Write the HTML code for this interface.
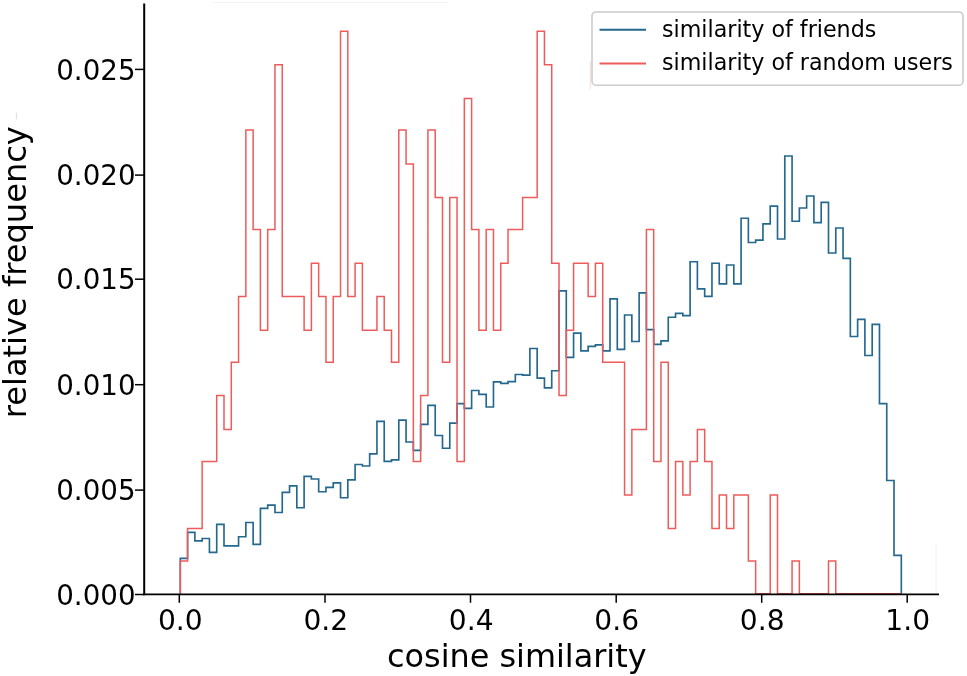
<!DOCTYPE html>
<html><head><meta charset="utf-8"><title>cosine similarity histogram</title>
<style>
html,body{margin:0;padding:0;background:#fff;}
svg{display:block;font-family:"DejaVu Sans","Liberation Sans",sans-serif;}
</style></head><body>
<svg width="967" height="676" viewBox="0 0 967 676">
<rect width="967" height="676" fill="#fff"/>
<line x1="212" y1="2.5" x2="448" y2="2.5" stroke="#f4f4f4" stroke-width="1.2"/>
<line x1="936.1" y1="544" x2="936.1" y2="594" stroke="#f4f4f4" stroke-width="1.2"/>
<line x1="16.4" y1="112.5" x2="16.4" y2="119.5" stroke="#dedede" stroke-width="1"/>
<g fill="none" stroke-linejoin="miter">
<path d="M180.30 593.80V558.30H187.58V532.30H194.87V540.90H202.15V538.50H209.43V552.40H216.72V524.30H224.00V545.90H231.28V545.90H238.56V536.70H245.85V522.50H253.13V544.40H260.41V508.30H267.70V505.10H274.98V512.50H282.26V492.30H289.55V485.80H296.83V507.70H304.11V476.40H311.39V479.00H318.68V491.70H325.96V487.30H333.24V482.90H340.53V497.70H347.81V479.90H355.09V464.50H362.38V466.00H369.66V453.90H376.94V421.30H384.22V461.30H391.51V459.80H398.79V420.10H406.07V442.00H413.36V450.30H420.64V424.30H427.92V405.30H435.21V435.50H442.49V448.20H449.77V423.10H457.05V403.60H464.34V408.30H471.62V390.50H478.90V394.30H486.19V407.00H493.47V381.90H500.75V383.40H508.04V381.60H515.32V374.50H522.60V375.10H529.88V348.50H537.17V378.10H544.45V387.80H551.73V370.70H559.02V290.80H566.30V357.40H573.58V333.10H580.87V350.80H588.15V346.40H595.43V344.90H602.71V350.80H610.00V298.80H617.28V349.40H624.56V315.00H631.85V341.50H639.13V292.80H646.41V329.60H653.70V344.40H660.98V340.80H668.26V317.20H675.54V313.40H682.83V315.60H690.11V261.70H697.39V288.90H704.68V296.30H711.96V263.20H719.24V283.90H726.53V265.00H733.81V283.90H741.09V218.20H748.37V242.50H755.66V240.10H762.94V223.80H770.22V206.10H777.51V239.00H784.79V156.00H792.07V221.20H799.36V208.00H806.64V196.00H813.92V222.60H821.20V202.30H828.49V253.00H835.77V228.00H843.05V258.40H850.34V336.50H857.62V319.30H864.90V355.50H872.18V324.30H879.47V403.60H886.75V480.50H894.03V555.30H901.32V593.80" stroke="#24688e" stroke-width="1.65"/>
<path d="M180.30 593.80V561.00H187.58V528.50H194.87V528.50H202.15V461.50H209.43V461.50H216.72V395.50H224.00V429.40H231.28V362.20H238.56V296.50H245.85V130.00H253.13V229.50H260.41V330.30H267.70V229.50H274.98V64.80H282.26V296.50H289.55V296.50H296.83V296.50H304.11V330.30H311.39V263.20H318.68V296.50H325.96V362.20H333.24V296.50H340.53V31.20H347.81V296.50H355.09V263.20H362.38V330.30H369.66V330.30H376.94V296.50H384.22V330.30H391.51V362.20H398.79V130.00H406.07V163.90H413.36V461.50H420.64V395.50H427.92V130.00H435.21V197.40H442.49V362.20H449.77V197.40H457.05V461.50H464.34V98.40H471.62V229.50H478.90V330.30H486.19V229.50H493.47V330.30H500.75V263.20H508.04V229.50H515.32V229.50H522.60V197.40H529.88V197.40H537.17V31.20H544.45V64.80H551.73V263.20H559.02V395.50H566.30V330.30H573.58V263.20H580.87V263.20H588.15V296.50H595.43V263.20H602.71V362.20H610.00V362.20H617.28V362.20H624.56V495.00H631.85V429.40H639.13V429.40H646.41V229.50H653.70V461.50H660.98V362.20H668.26V528.50H675.54V461.50H682.83V495.00H690.11V461.50H697.39V429.40H704.68V461.50H711.96V528.50H719.24V495.00H726.53V528.50H733.81V495.00H741.09V495.00H748.37V561.00H755.66V593.80H762.94V593.80H770.22V495.00H777.51V593.80H784.79V593.80H792.07V561.00H799.36V593.80H806.64V593.80H813.92V593.80H821.20V593.80H828.49V561.00H835.77V593.80H843.05V593.80H850.34V593.80H857.62V593.80H864.90V593.80H872.18V593.80H879.47V593.80H886.75V593.80H894.03V593.80H901.32V593.80" stroke="#ee5b5b" stroke-width="1.5"/>
</g>
<g stroke="#000" fill="none">
<line x1="144.2" y1="3.5" x2="144.2" y2="595.3" stroke-width="2"/>
<line x1="143.2" y1="594.4" x2="939" y2="594.4" stroke-width="1.9"/>
<g stroke-width="1.5">
<line x1="135" y1="594.5" x2="144" y2="594.5"/>
<line x1="135" y1="490.1" x2="144" y2="490.1"/>
<line x1="135" y1="384.7" x2="144" y2="384.7"/>
<line x1="135" y1="279.2" x2="144" y2="279.2"/>
<line x1="135" y1="175.1" x2="144" y2="175.1"/>
<line x1="135" y1="69.4" x2="144" y2="69.4"/>
<line x1="179.3" y1="594.5" x2="179.3" y2="602.8"/>
<line x1="325.0" y1="594.5" x2="325.0" y2="602.8"/>
<line x1="470.5" y1="594.5" x2="470.5" y2="602.8"/>
<line x1="616.2" y1="594.5" x2="616.2" y2="602.8"/>
<line x1="761.7" y1="594.5" x2="761.7" y2="602.8"/>
<line x1="907.2" y1="594.5" x2="907.2" y2="602.8"/>
</g></g>
<g font-size="27.7" fill="#000" text-anchor="end">
<text x="135.5" y="604.7">0.000</text>
<text x="135.5" y="500.3">0.005</text>
<text x="135.5" y="394.9">0.010</text>
<text x="135.5" y="289.4">0.015</text>
<text x="135.5" y="185.3">0.020</text>
<text x="135.5" y="79.6">0.025</text>
</g>
<g font-size="28.1" fill="#000" text-anchor="middle">
<text x="180.3" y="630.1">0.0</text>
<text x="325.8" y="630.1">0.2</text>
<text x="471.2" y="630.1">0.4</text>
<text x="616.7" y="630.1">0.6</text>
<text x="762.2" y="630.1">0.8</text>
<text x="907.7" y="630.1">1.0</text>
</g>
<text x="516.8" y="667" font-size="31.9" text-anchor="middle">cosine similarity</text>
<text transform="translate(25.8 272.2) rotate(-90)" font-size="32.1" text-anchor="middle">relative frequency</text>
<line x1="590.3" y1="61.5" x2="590.3" y2="89.5" stroke="#fadcdc" stroke-width="1"/>
<rect x="592" y="12" width="371" height="73.2" rx="4" ry="4" fill="#fff" stroke="#cccccc" stroke-width="1.6"/>
<line x1="599.5" y1="29.7" x2="646" y2="29.7" stroke="#24688e" stroke-width="2"/>
<line x1="599.5" y1="63.4" x2="646" y2="63.4" stroke="#ee5b5b" stroke-width="2"/>
<text x="662" y="36.7" font-size="22.2">similarity of friends</text>
<text x="662" y="70.3" font-size="22.2">similarity of random users</text>
</svg>
</body></html>
